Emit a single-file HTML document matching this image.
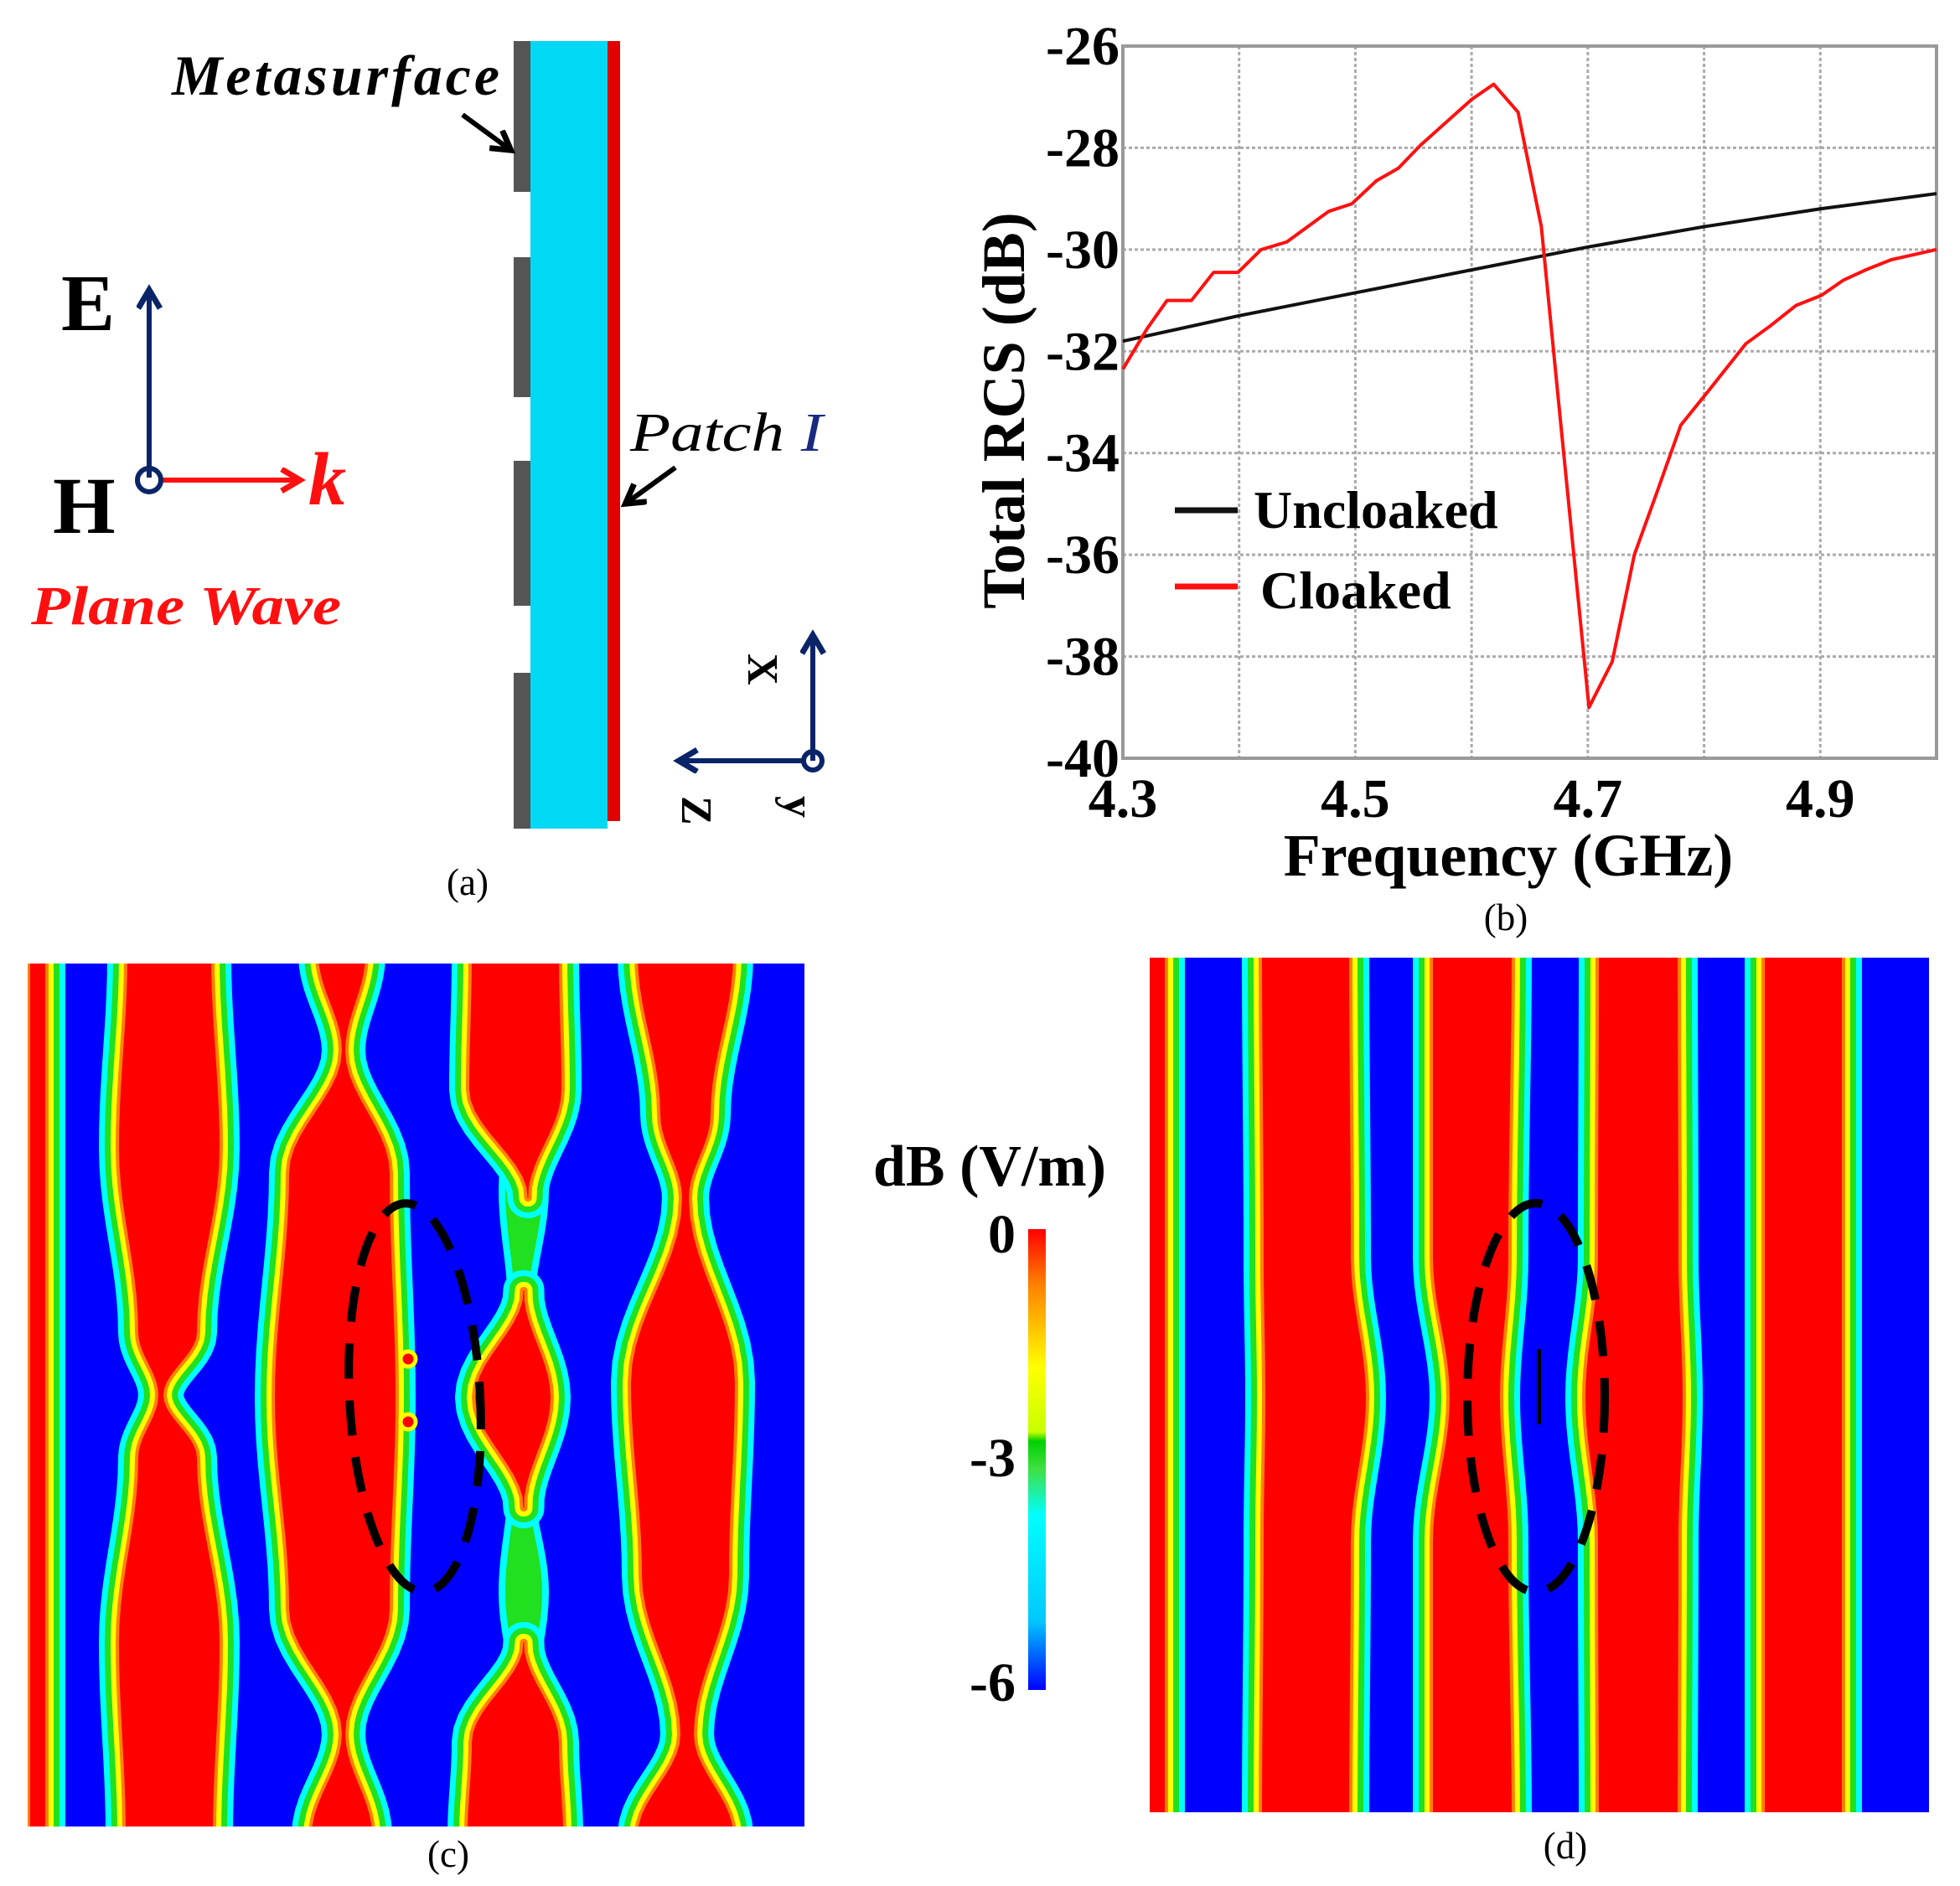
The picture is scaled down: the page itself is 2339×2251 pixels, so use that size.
<!DOCTYPE html>
<html><head><meta charset="utf-8"><style>
html,body{margin:0;padding:0;background:#fff;}
svg{display:block;font-family:"Liberation Serif",serif;}
</style></head><body>
<svg id="root" width="2339" height="2251" viewBox="0 0 2339 2251" xmlns="http://www.w3.org/2000/svg">
<defs>
<marker id="ah" markerWidth="40" markerHeight="40" refX="22" refY="15" orient="auto" markerUnits="userSpaceOnUse"><path d="M2,2 L24,15 L2,28" fill="none" stroke="context-stroke" stroke-width="7"/></marker>
<linearGradient id="cbar" x1="0" y1="0" x2="0" y2="1">
<stop offset="0" stop-color="#ff0000"/><stop offset="0.12" stop-color="#ff8000"/><stop offset="0.3" stop-color="#ffff00"/><stop offset="0.44" stop-color="#c8ff00"/><stop offset="0.46" stop-color="#00d000"/><stop offset="0.52" stop-color="#40e040"/><stop offset="0.62" stop-color="#00ffff"/><stop offset="0.85" stop-color="#00c8ff"/><stop offset="1" stop-color="#0000ff"/>
</linearGradient>
<clipPath id="clipc"><rect x="33" y="1150" width="927" height="1030"/></clipPath>
<clipPath id="clipd"><rect x="1372" y="1143" width="930" height="1020"/></clipPath>
</defs>

<!-- Panel (a) -->
<g>
  <rect x="613" y="49" width="20" height="180" fill="#555"/>
  <rect x="613" y="307" width="20" height="167" fill="#555"/>
  <rect x="613" y="550" width="20" height="173" fill="#555"/>
  <rect x="613" y="803" width="20" height="186" fill="#555"/>
  <rect x="633" y="49" width="92" height="940" fill="#00d8f4"/>
  <rect x="725" y="49" width="15" height="931" fill="#e00000"/>
  <text x="205" y="113" font-size="68" font-weight="bold" font-style="italic" letter-spacing="4" textLength="395" lengthAdjust="spacingAndGlyphs">Metasurface</text>
  <line x1="552" y1="137" x2="608" y2="178" stroke="#000" stroke-width="6" marker-end="url(#ah)"/>
  <text x="752" y="538" font-size="66" font-style="italic" textLength="230" lengthAdjust="spacingAndGlyphs">Patch <tspan fill="#1a2a80">I</tspan></text>
  <line x1="806" y1="558" x2="748" y2="600" stroke="#000" stroke-width="6" marker-end="url(#ah)"/>
  <text x="73" y="394" font-size="96" font-weight="bold">E</text>
  <line x1="178" y1="570" x2="178" y2="348" stroke="#0a2468" stroke-width="6" marker-end="url(#ah)"/>
  <text x="63" y="636" font-size="96" font-weight="bold">H</text>
  <line x1="190" y1="573" x2="356" y2="573" stroke="#ff1010" stroke-width="6" marker-end="url(#ah)"/>
  <circle cx="178" cy="573" r="14" fill="none" stroke="#0a2468" stroke-width="6"/>
  <text x="368" y="602" font-size="90" font-weight="bold" font-style="italic" fill="#ff1010">k</text>
  <text x="37" y="745" font-size="66" font-weight="bold" font-style="italic" fill="#ff1010" textLength="370" lengthAdjust="spacingAndGlyphs">Plane Wave</text>
  <line x1="970" y1="908" x2="970" y2="760" stroke="#0a2468" stroke-width="6" marker-end="url(#ah)"/>
  <line x1="958" y1="908" x2="812" y2="908" stroke="#0a2468" stroke-width="6" marker-end="url(#ah)"/>
  <circle cx="970" cy="908" r="11" fill="none" stroke="#0a2468" stroke-width="6"/>
  <text transform="translate(893,780) rotate(90)" font-size="52" font-weight="bold">X</text>
  <text transform="translate(814,950) rotate(90)" font-size="52" font-weight="bold">Z</text>
  <text transform="translate(936,950) rotate(90)" font-size="52" font-weight="bold">y</text>
  <text x="558" y="1068" font-size="45" text-anchor="middle">(a)</text>
</g>

<!-- Panel (b) chart -->
<g id="chart"></g>
<text x="1797" y="1110" font-size="45" text-anchor="middle">(b)</text>

<!-- Panel (c) -->
<g clip-path="url(#clipc)">
  <rect x="33" y="1150" width="927" height="1030" fill="#0000ff"/>
  <g id="stripesC"></g>
  <circle cx="487" cy="1622" r="9" fill="#ff0000" stroke="#ffff00" stroke-width="5"/>
  <circle cx="487" cy="1697" r="9" fill="#ff0000" stroke="#ffff00" stroke-width="5"/>
  <ellipse cx="495" cy="1668" rx="78" ry="232" fill="none" stroke="#000" stroke-width="10" stroke-dasharray="42,26" transform="rotate(-3 495 1668)"/>
</g>
<text x="535" y="2228" font-size="45" text-anchor="middle">(c)</text>

<!-- Colorbar -->
<g>
  <text x="1181" y="1415" font-size="70" font-weight="bold" text-anchor="middle">dB (V/m)</text>
  <rect x="1227" y="1467" width="21" height="550" fill="url(#cbar)"/>
  <text x="1212" y="1495" font-size="66" font-weight="bold" text-anchor="end">0</text>
  <text x="1212" y="1762" font-size="66" font-weight="bold" text-anchor="end">-3</text>
  <text x="1212" y="2030" font-size="66" font-weight="bold" text-anchor="end">-6</text>
</g>

<!-- Panel (d) -->
<g clip-path="url(#clipd)">
  <rect x="1372" y="1143" width="930" height="1020" fill="#0000ff"/>
  <g id="stripesD"></g>
  <rect x="1834" y="1610" width="5" height="90" fill="#000"/>
  <ellipse cx="1833" cy="1668" rx="82" ry="232" fill="none" stroke="#000" stroke-width="10" stroke-dasharray="42,26"/>
</g>
<text x="1868" y="2218" font-size="45" text-anchor="middle">(d)</text>
</svg>
<script>
// ---- chart data ----
const freqTicks = [4.3, 4.4, 4.5, 4.6, 4.7, 4.8, 4.9, 5.0];
const freqTickLabels = ["4.3", "", "4.5", "", "4.7", "", "4.9", ""];
const rcsTicks = [-26, -28, -30, -32, -34, -36, -38, -40];
const unclFreq = [4.3, 4.4, 4.5, 4.6, 4.7, 4.8, 4.9, 5.0];
const unclRcs = [-31.8, -31.3, -30.85, -30.4, -29.95, -29.55, -29.2, -28.9];
const clkFreq = [4.3, 4.321, 4.338, 4.359, 4.378, 4.399, 4.419, 4.441, 4.477, 4.497, 4.518, 4.537, 4.556, 4.578, 4.6, 4.619, 4.64, 4.66, 4.674, 4.701, 4.721, 4.74, 4.759, 4.78, 4.803, 4.836, 4.857, 4.879, 4.901, 4.92, 4.939, 4.961, 5.0];
const clkRcs = [-32.35, -31.55, -31.0, -31.0, -30.45, -30.45, -30.0, -29.85, -29.25, -29.1, -28.65, -28.4, -27.95, -27.5, -27.05, -26.75, -27.3, -29.55, -32.8, -39.0, -38.1, -36.0, -34.8, -33.45, -32.8, -31.85, -31.5, -31.1, -30.9, -30.6, -30.4, -30.2, -30.0];

const NS = "http://www.w3.org/2000/svg";
const X0 = 1340, X1 = 2311, Y0 = 55, Y1 = 905;
function xs(f) { return X0 + (f - 4.3) / 0.7 * (X1 - X0); }
function ys(v) { return Y0 + (-26 - v) / 14 * (Y1 - Y0); }
function mk(tag, attrs, parent) { const e = document.createElementNS(NS, tag); for (const k in attrs) e.setAttribute(k, attrs[k]); parent.appendChild(e); return e; }
const chart = document.getElementById('chart');

freqTicks.forEach((f, i) => {
  const g = mk('line', {x1: xs(f), x2: xs(f), y1: Y0, y2: Y1, stroke: '#aaa', 'stroke-width': 3, 'stroke-dasharray': '4,3'}, chart);
  
  
  if (freqTickLabels[i]) {
    const t = mk('text', {x: xs(f), y: 975, 'font-size': 66, 'font-weight': 'bold', 'text-anchor': 'middle'}, chart);
    t.textContent = freqTickLabels[i];
    
    
  }
});
rcsTicks.forEach(v => {
  const g = mk('line', {x1: X0, x2: X1, y1: ys(v), y2: ys(v), stroke: '#aaa', 'stroke-width': 3, 'stroke-dasharray': '4,3'}, chart);
  
  
  const t = mk('text', {x: 1336, y: ys(v) + 22, 'font-size': 66, 'font-weight': 'bold', 'text-anchor': 'end'}, chart);
  t.textContent = String(v);
  
  
});
const frame = mk('rect', {x: X0, y: Y0, width: X1 - X0, height: Y1 - Y0, fill: 'none', stroke: '#999', 'stroke-width': 4}, chart);



const l1 = mk('polyline', {points: unclFreq.map((f, i) => xs(f) + ',' + ys(unclRcs[i])).join(' '), fill: 'none', stroke: '#111', 'stroke-width': 4}, chart);


const l2 = mk('polyline', {points: clkFreq.map((f, i) => xs(f) + ',' + ys(clkRcs[i])).join(' '), fill: 'none', stroke: '#ff1010', 'stroke-width': 4, 'stroke-linejoin': 'round'}, chart);



const xt = mk('text', {x: 1800, y: 1045, 'font-size': 72, 'font-weight': 'bold', 'text-anchor': 'middle'}, chart);
xt.textContent = 'Frequency (GHz)';


const yt = mk('text', {transform: 'translate(1222,490) rotate(-90)', 'font-size': 72, 'font-weight': 'bold', 'text-anchor': 'middle'}, chart);
yt.textContent = 'Total RCS (dB)';



const lg1 = mk('line', {x1: 1402, x2: 1477, y1: 609, y2: 609, stroke: '#111', 'stroke-width': 7}, chart);


const lt1 = mk('text', {x: 1496, y: 630, 'font-size': 64, 'font-weight': 'bold'}, chart);
lt1.textContent = 'Uncloaked';


const lg2 = mk('line', {x1: 1402, x2: 1477, y1: 700, y2: 700, stroke: '#ff1010', 'stroke-width': 7}, chart);


const lt2 = mk('text', {x: 1504, y: 726, 'font-size': 64, 'font-weight': 'bold'}, chart);
lt2.textContent = 'Cloaked';



// ---- field-map stripes ----
function pathOf(prof) {
  let left = prof.map(p => [p[1] - Math.max(p[2], 0.5), p[0]]);
  let right = prof.map(p => [p[1] + Math.max(p[2], 0.5), p[0]]).reverse();
  const pts = left.concat(right);
  let d = 'M' + pts[0][0] + ',' + pts[0][1];
  for (let i = 1; i < pts.length; i++) d += ' L' + pts[i][0] + ',' + pts[i][1];
  return d + 'Z';
}
function stripe(parent, prof) {
  const d = pathOf(prof);
  [['#00ffff', 48], ['#20e020', 34], ['#ffff00', 20], ['#ff8000', 8]].forEach(s => {
    mk('path', {d: d, fill: 'none', stroke: s[0], 'stroke-width': s[1], 'stroke-linejoin': 'round'}, parent);
  });
  mk('path', {d: d, fill: '#ff0000'}, parent);
}
function greenBand(parent, prof) {
  const d = pathOf(prof);
  mk('path', {d: d, fill: '#00ffff', stroke: '#00ffff', 'stroke-width': 16}, parent);
  mk('path', {d: d, fill: '#20e020'}, parent);
}
function smooth(ctrl, step) {
  const out = [];
  for (let i = 0; i < ctrl.length - 1; i++) {
    const a = ctrl[i], b = ctrl[i + 1];
    for (let t = 0; t < 1; t += step) {
      const s = (1 - Math.cos(Math.PI * t)) / 2;
      out.push([a[0] + (b[0] - a[0]) * t, a[1] + (b[1] - a[1]) * s, a[2] + (b[2] - a[2]) * s]);
    }
  }
  out.push(ctrl[ctrl.length - 1]);
  return out;
}
const sc = document.getElementById('stripesC');
greenBand(sc, smooth([[1280, 625, 4], [1420, 625, 22], [1560, 622, 8]], 0.1));
greenBand(sc, smooth([[1770, 622, 8], [1900, 625, 22], [2050, 625, 4]], 0.1));
stripe(sc, smooth([[1140, 45, 9], [2190, 45, 9]], 0.5));
stripe(sc, smooth([[1140, 202, 50], [1370, 202, 60], [1590, 200, 35], [1665, 192, 3], [1740, 200, 35], [1960, 202, 60], [2190, 202, 52]], 0.1));
stripe(sc, smooth([[1140, 408, 28], [1254, 410, 2], [1400, 405, 60], [1668, 400, 72], [1920, 405, 60], [2069, 410, 2], [2190, 408, 36]], 0.1));
stripe(sc, smooth([[1140, 615, 52], [1300, 615, 55], [1430, 630, 0]], 0.1));
stripe(sc, smooth([[1540, 625, 0], [1668, 612, 45], [1800, 625, 0]], 0.1));
stripe(sc, smooth([[1960, 625, 0], [2080, 615, 52], [2190, 615, 57]], 0.1));
stripe(sc, smooth([[1140, 818, 57], [1330, 818, 30], [1430, 818, 4], [1650, 815, 62], [1880, 818, 52], [2070, 820, 8], [2190, 818, 57]], 0.1));

const sd = document.getElementById('stripesD');
stripe(sd, smooth([[1130, 1380, 10], [2180, 1380, 10]], 0.5));
stripe(sd, smooth([[1130, 1558, 52], [1500, 1560, 52], [1668, 1570, 60], [1840, 1560, 52], [2180, 1558, 52]], 0.1));
stripe(sd, smooth([[1130, 1757, 47], [1500, 1755, 45], [1668, 1760, 30], [1840, 1755, 45], [2180, 1757, 47]], 0.1));
stripe(sd, smooth([[1130, 1955, 47], [1500, 1955, 48], [1668, 1950, 58], [1840, 1955, 48], [2180, 1955, 47]], 0.1));
stripe(sd, smooth([[1130, 2152, 46], [2180, 2152, 46]], 0.5));
</script>
</body></html>
